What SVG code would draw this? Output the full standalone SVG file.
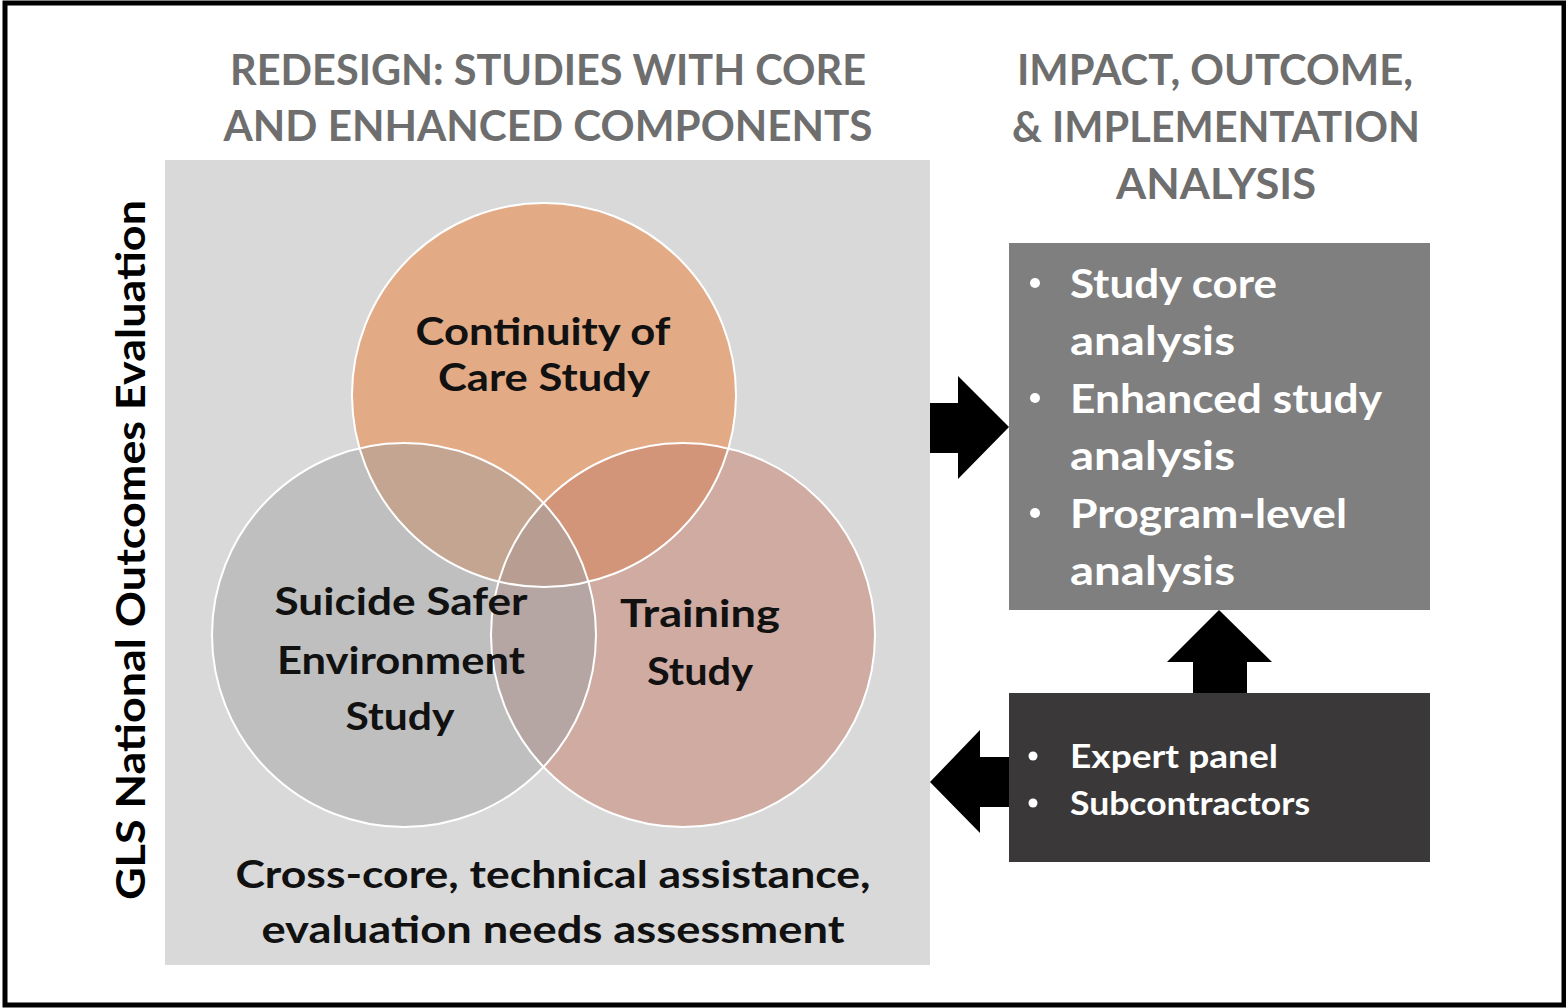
<svg xmlns="http://www.w3.org/2000/svg" width="1566" height="1008" viewBox="0 0 1566 1008">
<style>
.t{font-family:Lato,"Liberation Sans",sans-serif;font-weight:700}
.title{fill:#6E6E6E;font-size:42px;text-anchor:middle}
.blk{fill:#111;font-size:38px;text-anchor:middle}
.wht{fill:#fff;font-size:40px}
.wsm{fill:#fff;font-size:32px}
.ring{fill:none;stroke:#fff;stroke-width:2}
.arrow{fill:#000}
</style>
<defs>
<clipPath id="cT"><circle cx="544" cy="395" r="192"/></clipPath>
<clipPath id="cL"><circle cx="404" cy="635" r="192"/></clipPath>
<clipPath id="cR"><circle cx="683" cy="635" r="192"/></clipPath>
</defs>
<rect x="0" y="0" width="1566" height="1008" fill="#fff"/>
<rect x="5" y="3" width="1559" height="1002" fill="none" stroke="#000" stroke-width="5"/>

<g id="titles">
<text class="t title" x="548" y="85" textLength="636" lengthAdjust="spacingAndGlyphs">REDESIGN: STUDIES WITH CORE</text>
<text class="t title" x="548" y="141" textLength="649" lengthAdjust="spacingAndGlyphs">AND ENHANCED COMPONENTS</text>
<text class="t title" x="1215" y="85" textLength="396" lengthAdjust="spacingAndGlyphs">IMPACT, OUTCOME,</text>
<text class="t title" x="1216" y="142" textLength="408" lengthAdjust="spacingAndGlyphs">&amp; IMPLEMENTATION</text>
<text class="t title" x="1216" y="199" textLength="200" lengthAdjust="spacingAndGlyphs">ANALYSIS</text>
</g>

<g id="side-label">
<text class="t" x="0" y="0" transform="translate(145,550) rotate(-90)" font-size="40" fill="#000" text-anchor="middle" textLength="700" lengthAdjust="spacingAndGlyphs">GLS National Outcomes Evaluation</text>
</g>

<g id="redesign-panel">
<rect x="165" y="160" width="765" height="805" fill="#D9D9D9"/>
<text class="t blk" x="553" y="888" textLength="635" lengthAdjust="spacingAndGlyphs">Cross-core, technical assistance,</text>
<text class="t blk" x="553" y="943" textLength="583" lengthAdjust="spacingAndGlyphs">evaluation needs assessment</text>
</g>

<g id="venn">
<circle cx="544" cy="395" r="192" fill="#E2AA85"/>
<circle cx="404" cy="635" r="192" fill="#BFBFBF"/>
<circle cx="683" cy="635" r="192" fill="#CFABA2"/>
<circle cx="544" cy="395" r="192" fill="#C4A592" clip-path="url(#cL)"/>
<circle cx="544" cy="395" r="192" fill="#D39579" clip-path="url(#cR)"/>
<circle cx="404" cy="635" r="192" fill="#B6A6A3" clip-path="url(#cR)"/>
<g clip-path="url(#cT)"><circle cx="404" cy="635" r="192" fill="#B89D92" clip-path="url(#cR)"/></g>
<circle class="ring" cx="544" cy="395" r="192"/>
<circle class="ring" cx="404" cy="635" r="192"/>
<circle class="ring" cx="683" cy="635" r="192"/>
</g>

<g id="continuity-of-care">
<text class="t blk" x="543" y="345" textLength="255" lengthAdjust="spacingAndGlyphs">Continuity of</text>
<text class="t blk" x="544" y="391" textLength="212" lengthAdjust="spacingAndGlyphs">Care Study</text>
</g>
<g id="suicide-safer">
<text class="t blk" x="401" y="615" textLength="253" lengthAdjust="spacingAndGlyphs">Suicide Safer</text>
<text class="t blk" x="401" y="674" textLength="248" lengthAdjust="spacingAndGlyphs">Environment</text>
<text class="t blk" x="400" y="730" textLength="109" lengthAdjust="spacingAndGlyphs">Study</text>
</g>
<g id="training">
<text class="t blk" x="700" y="627" textLength="160" lengthAdjust="spacingAndGlyphs">Training</text>
<text class="t blk" x="700" y="685" textLength="106" lengthAdjust="spacingAndGlyphs">Study</text>
</g>

<g id="analysis-box">
<rect x="1009" y="243" width="421" height="367" fill="#7F7F7F"/>
<circle cx="1035" cy="283" r="5" fill="#fff"/>
<circle cx="1035" cy="398" r="5" fill="#fff"/>
<circle cx="1035" cy="513" r="5" fill="#fff"/>
<text class="t wht" x="1070" y="298" textLength="207" lengthAdjust="spacingAndGlyphs">Study core</text>
<text class="t wht" x="1070" y="355" textLength="165" lengthAdjust="spacingAndGlyphs">analysis</text>
<text class="t wht" x="1070" y="413" textLength="312" lengthAdjust="spacingAndGlyphs">Enhanced study</text>
<text class="t wht" x="1070" y="470" textLength="165" lengthAdjust="spacingAndGlyphs">analysis</text>
<text class="t wht" x="1070" y="528" textLength="277" lengthAdjust="spacingAndGlyphs">Program-level</text>
<text class="t wht" x="1070" y="585" textLength="165" lengthAdjust="spacingAndGlyphs">analysis</text>
</g>

<g id="support-box">
<rect x="1009" y="693" width="421" height="169" fill="#3A3838"/>
<circle cx="1033" cy="756" r="4.5" fill="#fff"/>
<circle cx="1033" cy="803" r="4.5" fill="#fff"/>
<text class="t wsm" x="1070" y="768" textLength="208" lengthAdjust="spacingAndGlyphs">Expert panel</text>
<text class="t wsm" x="1070" y="815" textLength="240" lengthAdjust="spacingAndGlyphs">Subcontractors</text>
</g>

<g id="connectors">
<polygon class="arrow" points="930,403 958,403 958,376 1009,427 958,479 958,453 930,453"/>
<polygon class="arrow" points="1193,693 1193,662 1167,662 1219,610 1272,662 1247,662 1247,693"/>
<polygon class="arrow" points="1009,757 980,757 980,730 930,782 980,833 980,807 1009,807"/>
</g>
</svg>
